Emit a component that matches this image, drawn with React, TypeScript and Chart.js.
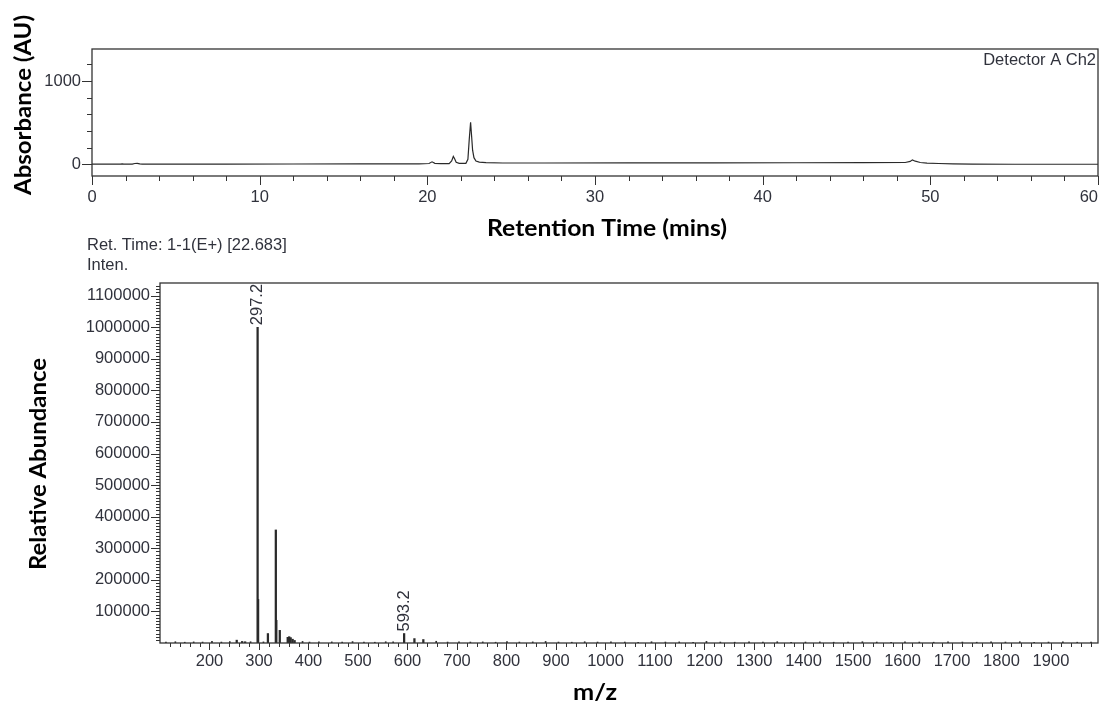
import React, { useEffect, useRef } from 'react';
import { Chart, registerables } from 'chart.js';

Chart.register(...registerables);

// ---------- Data ----------
// Chromatogram (Detector A Ch2)
const chromTime = [0, 1.7, 1.8, 1.9, 2.4, 2.55, 2.7, 2.85, 3.0, 5, 8, 12, 16, 19.5, 20.1, 20.28, 20.45, 20.8, 21.3, 21.45, 21.55, 21.62, 21.72, 21.9, 22.3, 22.42, 22.5, 22.58, 22.64, 22.7, 22.78, 22.9, 23.1, 23.5, 24.5, 27, 32, 37, 42, 46, 48.5, 48.8, 48.93, 49.1, 49.4, 49.8, 50.5, 51.35, 52.5, 55, 60];
const chromAbs = [2, 2, 6, 2, 2, 10, 12, 6, 2, 2, 3, 4, 5, 6, 10, 30, 12, 8, 8, 40, 95, 70, 25, 12, 12, 60, 300, 505, 340, 170, 80, 40, 26, 20, 16, 16, 17, 18, 19, 20, 22, 35, 54, 38, 22, 14, 10, 6, 2, 1, 1];

// Mass spectrum at Ret. Time 22.683
const peakMz = [255, 266, 272, 297.2, 298.2, 318, 334, 335, 342, 358, 361, 364, 368, 372, 593.2, 614, 632];
const peakIntensity = [9000, 5000, 4000, 1000000, 138000, 30000, 358000, 72000, 40000, 18000, 20000, 17000, 12000, 8000, 30000, 14000, 11000];
const labeledMz = [297.2, 593.2];

const noiseMz = [112, 131, 150, 168, 186, 205, 224, 241, 283, 309, 388, 402, 421, 447, 468, 489, 512, 534, 556, 571, 658, 681, 704, 727, 752, 778, 801, 826, 853, 879, 905, 932, 958, 984, 1011, 1039, 1066, 1093, 1121, 1149, 1177, 1204, 1232, 1261, 1290, 1318, 1347, 1375, 1404, 1433, 1461, 1490, 1519, 1548, 1577, 1605, 1634, 1663, 1692, 1721, 1750, 1779, 1808, 1837, 1866, 1895, 1924, 1953, 1981];
const noiseIntensity = [3000, 4000, 2500, 3500, 3000, 5000, 3000, 4500, 4000, 3500, 5000, 3000, 4000, 3500, 3000, 4500, 3000, 2500, 4000, 3500, 5500, 3000, 4000, 3000, 3500, 2500, 4500, 3000, 3500, 5000, 3000, 2500, 4000, 3000, 3500, 3000, 2500, 4000, 3000, 3500, 2500, 5000, 3000, 2500, 3500, 3000, 4000, 2500, 3000, 3500, 2500, 3000, 4000, 3000, 2500, 3500, 3000, 2500, 4000, 3000, 2500, 3500, 3000, 4000, 2500, 3000, 3500, 2500, 3000];

// Axis ranges and tick labels
const topXRange = [0, 60];
const topYRange = [-140, 1385];
const topXTicks = [0, 10, 20, 30, 40, 50, 60];
const topYTicks = [0, 1000];
const botXRange = [100, 1995];
const botYRange = [0, 1140000];
const botXTicks = [200, 300, 400, 500, 600, 700, 800, 900, 1000, 1100, 1200, 1300, 1400, 1500, 1600, 1700, 1800, 1900];
const botYTicks = [100000, 200000, 300000, 400000, 500000, 600000, 700000, 800000, 900000, 1000000, 1100000];

// ---------- Styles ----------
const TICK_FONT = '"Liberation Sans", Arial, sans-serif';
const TITLE_FONT = 'Lato, "Open Sans", sans-serif';
const TICK_COLOR = '#30323c';
const AXIS_COLOR = '#333333';
const LINE_COLOR = '#2a2a2a';

function fitText(ctx: CanvasRenderingContext2D, text: string, x: number, y: number, width: number, font: string, rot: number) {
  ctx.save();
  ctx.font = font;
  const w = ctx.measureText(text).width;
  ctx.translate(x, y);
  ctx.rotate(rot);
  ctx.scale(width / w, 1);
  ctx.textAlign = 'center';
  ctx.textBaseline = 'alphabetic';
  ctx.fillStyle = '#000';
  ctx.fillText(text, 0, 0);
  ctx.restore();
}

function seg(ctx: CanvasRenderingContext2D, x1: number, y1: number, x2: number, y2: number) {
  ctx.beginPath();
  ctx.moveTo(x1, y1);
  ctx.lineTo(x2, y2);
  ctx.stroke();
}

const topDecor = {
  id: 'topDecor',
  afterDraw(chart: any) {
    const { ctx, chartArea: a } = chart;
    const x = chart.scales.x;
    const y = chart.scales.y;
    ctx.save();
    ctx.strokeStyle = AXIS_COLOR;
    ctx.lineWidth = 1.3;
    ctx.strokeRect(a.left, a.top, a.right - a.left, a.bottom - a.top);
    ctx.lineWidth = 1;
    for (let k = 0; k <= 30; k++) {
      const v = k * 2;
      const px = Math.round(x.getPixelForValue(v)) + 0.5;
      seg(ctx, px, a.bottom, px, a.bottom + (v % 10 === 0 ? 9 : 5));
    }
    for (let k = 0; k <= 6; k++) {
      const v = k * 200;
      const py = Math.round(y.getPixelForValue(v)) + 0.5;
      seg(ctx, a.left - (v % 1000 === 0 ? 10 : 5), py, a.left, py);
    }
    // x tick labels (last one kept inside the canvas as in the original)
    ctx.font = `16.5px ${TICK_FONT}`;
    ctx.fillStyle = TICK_COLOR;
    ctx.textBaseline = 'alphabetic';
    ctx.textAlign = 'center';
    x.ticks.forEach((t: any) => {
      const label = String(t.value);
      const px = x.getPixelForValue(t.value);
      const w = ctx.measureText(label).width;
      const cx = Math.min(px, chart.width - 5 - w / 2);
      ctx.fillText(label, cx, 202);
    });
    ctx.textAlign = 'right';
    ctx.fillText('Detector A Ch2', 1096, 65);
    ctx.restore();
    fitText(ctx, 'Absorbance (AU)', 31, 105, 180, `bold 23px ${TITLE_FONT}`, -Math.PI / 2);
    fitText(ctx, 'Retention Time (mins)', 607, 236, 240, `bold 23px ${TITLE_FONT}`, 0);
  },
};

const botDecor = {
  id: 'botDecor',
  afterDraw(chart: any) {
    const { ctx, chartArea: a } = chart;
    const x = chart.scales.x;
    const y = chart.scales.y;
    ctx.save();
    ctx.strokeStyle = AXIS_COLOR;
    ctx.lineWidth = 1.3;
    ctx.strokeRect(a.left, a.top, a.right - a.left, a.bottom - a.top);
    ctx.lineWidth = 1;
    for (let k = 1; k <= 94; k++) {
      const v = 100 + k * 20;
      const px = Math.round(x.getPixelForValue(v)) + 0.5;
      seg(ctx, px, a.bottom, px, a.bottom + (v % 100 === 0 ? 7 : 4));
    }
    for (let k = 1; k <= 113; k++) {
      const v = k * 10000;
      const py = Math.round(y.getPixelForValue(v)) + 0.5;
      seg(ctx, a.left - (k % 10 === 0 ? 9 : 4), py, a.left, py);
    }
    const meta = chart.getDatasetMeta(0);
    ctx.font = `16.5px ${TICK_FONT}`;
    ctx.fillStyle = TICK_COLOR;
    labeledMz.forEach((mz) => {
      const i = peakMz.indexOf(mz);
      const el = meta.data[i];
      if (!el) return;
      ctx.save();
      ctx.translate(el.x, el.y - 2);
      ctx.rotate(-Math.PI / 2);
      ctx.textAlign = 'left';
      ctx.textBaseline = 'middle';
      ctx.fillText(mz.toFixed(1), 0, 0);
      ctx.restore();
    });
    ctx.textAlign = 'left';
    ctx.textBaseline = 'alphabetic';
    ctx.fillText('Ret. Time: 1-1(E+) [22.683]', 87, 20);
    ctx.fillText('Inten.', 87, 40);
    ctx.restore();
    fitText(ctx, 'Relative Abundance', 46, 234, 212, `bold 23px ${TITLE_FONT}`, -Math.PI / 2);
    fitText(ctx, 'm/z', 595, 470, 44, `bold 23px ${TITLE_FONT}`, 0);
  },
};

const setTicks = (values: number[]) => (s: any) => {
  s.ticks = values.map((v) => ({ value: v }));
};

export default function App() {
  const topRef = useRef<HTMLCanvasElement>(null);
  const botRef = useRef<HTMLCanvasElement>(null);

  useEffect(() => {
    const tickFont = { family: TICK_FONT, size: 16.5 };
    const top = new Chart(topRef.current as HTMLCanvasElement, {
      type: 'line',
      data: {
        datasets: [
          {
            data: chromTime.map((t, i) => ({ x: t, y: chromAbs[i] })),
            borderColor: LINE_COLOR,
            borderWidth: 1.2,
            pointRadius: 0,
            tension: 0,
          },
        ],
      },
      options: {
        responsive: false,
        animation: false,
        events: [],
        layout: { padding: { top: 49, right: 5, left: 0, bottom: 0 } },
        plugins: { legend: { display: false }, tooltip: { enabled: false } },
        scales: {
          x: {
            type: 'linear',
            min: topXRange[0],
            max: topXRange[1],
            grid: { display: false },
            border: { display: false },
            ticks: { display: false },
            afterBuildTicks: setTicks(topXTicks),
            afterFit: (s: any) => {
              s.height = 245 - 176;
              s.paddingLeft = 0;
              s.paddingRight = 0;
            },
          },
          y: {
            type: 'linear',
            min: topYRange[0],
            max: topYRange[1],
            grid: { display: false, drawTicks: true, tickLength: 10 },
            border: { display: false },
            ticks: {
              padding: 1,
              font: tickFont,
              color: TICK_COLOR,
              callback: (v: any) => String(v),
            },
            afterBuildTicks: setTicks(topYTicks),
            afterFit: (s: any) => {
              s.width = 92;
              s.paddingTop = 0;
              s.paddingBottom = 0;
            },
          },
        },
      } as any,
      plugins: [topDecor],
    });

    const bot = new Chart(botRef.current as HTMLCanvasElement, {
      type: 'bar',
      data: {
        datasets: [
          {
            data: peakMz.map((m, i) => ({ x: m, y: peakIntensity[i] })),
            backgroundColor: LINE_COLOR,
            barThickness: 1.6,
            grouped: false,
          } as any,
          {
            data: noiseMz.map((m, i) => ({ x: m, y: noiseIntensity[i] })),
            backgroundColor: LINE_COLOR,
            barThickness: 1,
            grouped: false,
          } as any,
        ],
      },
      options: {
        responsive: false,
        animation: false,
        events: [],
        layout: { padding: { top: 53, right: 5, left: 0, bottom: 0 } },
        plugins: { legend: { display: false }, tooltip: { enabled: false } },
        scales: {
          x: {
            type: 'linear',
            offset: false,
            min: botXRange[0],
            max: botXRange[1],
            grid: { display: false, drawTicks: true, tickLength: 7 },
            border: { display: false },
            ticks: {
              autoSkip: false,
              maxRotation: 0,
              padding: 2,
              font: tickFont,
              color: TICK_COLOR,
              callback: (v: any) => String(v),
            },
            afterBuildTicks: setTicks(botXTicks),
            afterFit: (s: any) => {
              s.height = 479 - 413;
              s.paddingLeft = 0;
              s.paddingRight = 0;
            },
          },
          y: {
            type: 'linear',
            min: botYRange[0],
            max: botYRange[1],
            grid: { display: false, drawTicks: true, tickLength: 9 },
            border: { display: false },
            ticks: {
              autoSkip: false,
              padding: 1,
              font: tickFont,
              color: TICK_COLOR,
              callback: (v: any) => String(v),
            },
            afterBuildTicks: setTicks(botYTicks),
            afterFit: (s: any) => {
              s.width = 160;
              s.paddingTop = 0;
              s.paddingBottom = 0;
            },
          },
        },
      } as any,
      plugins: [botDecor],
    });

    return () => {
      top.destroy();
      bot.destroy();
    };
  }, []);

  return (
    <div style={{ position: 'absolute', left: 0, top: 0, width: 1103, height: 709, background: '#fff', overflow: 'hidden' }}>
      <canvas ref={topRef} width={1103} height={245} style={{ position: 'absolute', left: 0, top: 0 }} />
      <canvas ref={botRef} width={1103} height={479} style={{ position: 'absolute', left: 0, top: 230 }} />
    </div>
  );
}
